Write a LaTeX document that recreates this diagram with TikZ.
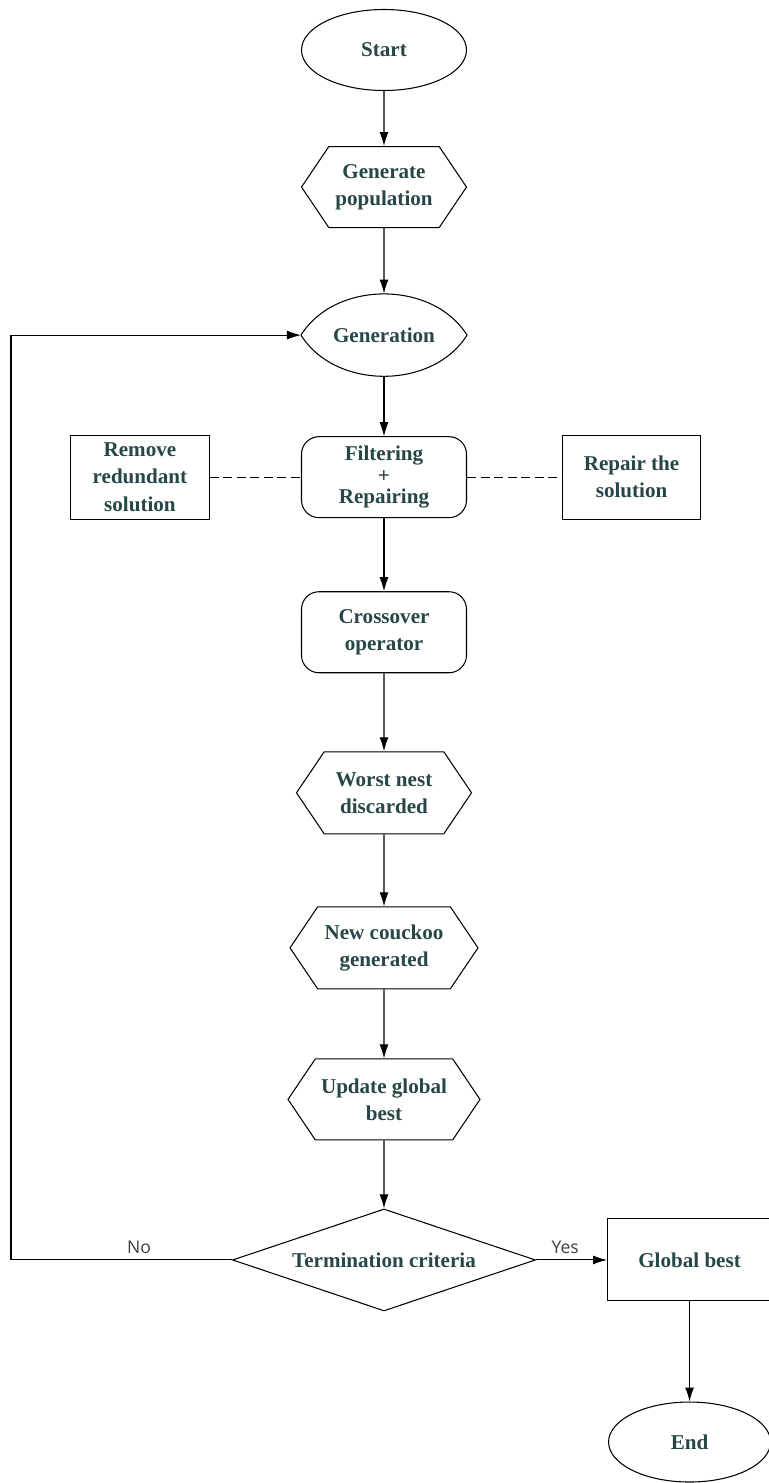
\documentclass[tikz,border=0pt]{standalone}
\usepackage{fontspec}
\setmainfont{Liberation Serif}
\newfontfamily\labelfont{Open Sans}
\usepackage{tikz}
\usetikzlibrary{arrows.meta,positioning,shapes.geometric,shapes.symbols}
\definecolor{txtcol}{RGB}{38,70,72}

\begin{document}
\begin{tikzpicture}[x=0.2mm,y=-0.2mm,
	hexa/.style={signal,signal to=west and east,signal pointer angle=112},
	arr/.style={-{Latex[length=2.8mm,width=1.8mm]},line width=0.6pt},
	yesno/.style={font=\labelfont\fontsize{10}{12}\selectfont,text=black!75}]
	\useasboundingbox (0,0) rectangle (769,1483);
	\begin{scope}[every node/.style={draw,line width=0.6pt,align=center,text=txtcol,font=\bfseries\fontsize{12}{15.4}\selectfont,inner sep=2pt,minimum width=33mm,minimum height=16.2mm}]
		\node[ellipse] (Start) at (384,50) {Start};
		\node[hexa,below =11mm of Start] (GenPop) {Generate\\population};
		\node[draw=none,below =13.1mm of GenPop,minimum height=16.4mm] (Gen) {Generation};
		\node[rectangle,rounded corners=3.5mm,below =11.9mm of Gen] (Filt) {Filtering\\[-3pt]+\\[-3pt]Repairing};
		\node[rectangle,left =18.2mm of Filt,minimum width=27.8mm,minimum height=16.8mm] (Remove) {Remove\\redundant\\solution};
		\node[rectangle,right =19mm of Filt,minimum width=27.6mm,minimum height=16.8mm] (Repair) {Repair the\\solution};
		\node[rectangle,rounded corners=3.5mm,below =14.6mm of Filt] (Cross) {Crossover\\operator};
		\node[hexa,below =15.6mm of Cross,minimum width=35mm,minimum height=16.4mm] (Worst) {Worst nest\\discarded};
		\node[hexa,below =14.4mm of Worst,minimum width=37.6mm,minimum height=16.4mm] (NewCuckoo) {New couckoo\\generated};
		\node[hexa,below =13.8mm of NewCuckoo,minimum width=38.4mm] (Update) {Update global\\best};
		\node[diamond,aspect=3,inner sep=0pt,below =13.6mm of Update,minimum width=60.6mm,minimum height=20.4mm] (Term) {Termination criteria};
		\node[rectangle,right =14.2mm of Term,minimum width=32.8mm,minimum height=16.4mm] (Best) {Global best};
		\node[ellipse,below =20mm of Best,minimum width=32.4mm,minimum height=16mm] (End) {End};
	\end{scope}

	\begin{scope}
	\draw[line width=0.6pt] (Gen.west) to[bend left=58] (Gen.east) to[bend left=58] (Gen.west);
	\draw[arr] (Start) edge (GenPop);
	\draw[arr] (GenPop) edge (Gen);
	\draw[arr] (Gen) edge (Filt);
	\draw[arr] (Filt) edge (Cross);
	\draw[arr] (Cross) edge (Worst);
	\draw[arr] (Worst) edge (NewCuckoo);
	\draw[arr] (NewCuckoo) edge (Update);
	\draw[arr] (Update) edge (Term);
	\draw[arr] (Term) -- node[yesno,above,pos=0.41] {Yes} (Best);
	\draw[arr] (Best) edge (End);
	\draw[line width=0.6pt,dash pattern=on 1.8mm off 0.9mm] (Remove) -- (Filt);
	\draw[line width=0.6pt,dash pattern=on 1.8mm off 0.9mm] (Filt) -- (Repair);
	\coordinate (Back) at (11,0);
	\draw[arr] (Term.west) -- node[yesno,above,pos=0.42] {No} (Term.west -| Back) |- (Gen.west);
	\end{scope}
\end{tikzpicture}
\end{document}
